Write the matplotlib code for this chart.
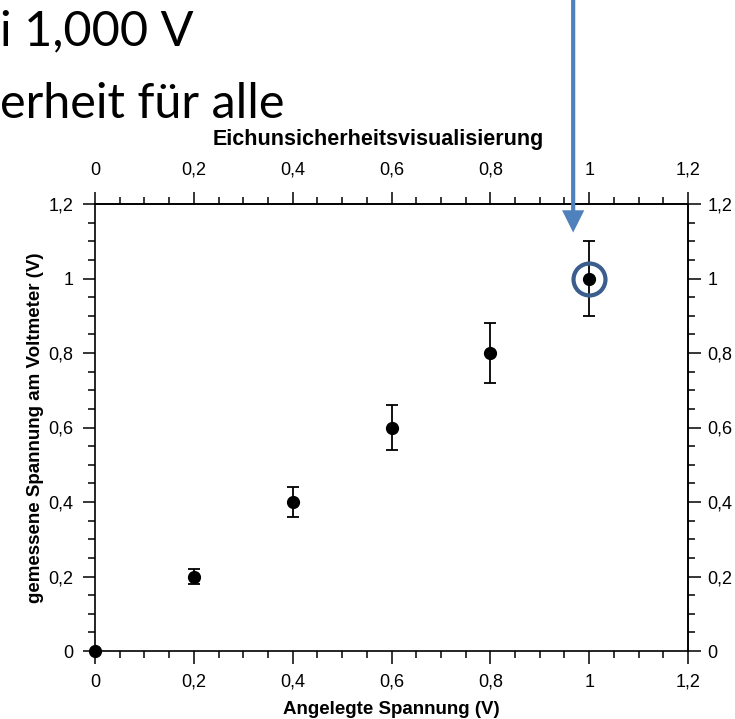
import matplotlib
matplotlib.use('Agg')
import matplotlib.pyplot as plt
from matplotlib import transforms
from matplotlib.ticker import MultipleLocator

# Daten
angelegt = [0, 0.2, 0.4, 0.6, 0.8, 1.0]
gemessen = [0, 0.2, 0.4, 0.6, 0.8, 1.0]
fehler = [0, 0.02, 0.04, 0.06, 0.08, 0.1]
ticks = [0, 0.2, 0.4, 0.6, 0.8, 1.0, 1.2]
tick_labels = ['0', '0,2', '0,4', '0,6', '0,8', '1', '1,2']
markiert_x, markiert_y = 1.0, 1.0

slide_zeilen = ['i 1,000 V', 'erheit für alle']

plt.rcParams['font.family'] = ['Liberation Sans', 'DejaVu Sans']

fig = plt.figure(figsize=(7.35, 7.19), dpi=100)

# Folientext (am linken Rand abgeschnitten)
fig.text(0.0, 1 - 45 / 719, slide_zeilen[0], fontsize=35, family=['Lato', 'DejaVu Sans'],
         va='baseline', ha='left')
fig.text(0.0, 1 - 118 / 719, slide_zeilen[1], fontsize=35, family=['Lato', 'DejaVu Sans'],
         va='baseline', ha='left')

ax = fig.add_axes([95 / 735, 68 / 719, 593 / 735, 447 / 719])

ax.errorbar(angelegt, gemessen, yerr=fehler, fmt='o', color='black', ms=8.5,
            capsize=4.5, elinewidth=1.3, capthick=1.3, clip_on=False, zorder=3)

# Markierung
ax.plot(markiert_x, markiert_y, 'o', ms=23, mfc='none', mec='#3c5e8e', mew=3, zorder=4)

ax.set_xlim(0, 1.2)
ax.set_ylim(0, 1.2)
ax.set_xticks(ticks, tick_labels)
ax.set_yticks(ticks, tick_labels)

# Achsen oben und rechts
oben = ax.secondary_xaxis('top')
oben.set_xticks(ticks, tick_labels)
rechts = ax.secondary_yaxis('right')
rechts.set_yticks(ticks, tick_labels)

for a in (ax, oben, rechts):
    a.xaxis.set_minor_locator(MultipleLocator(0.05))
    a.yaxis.set_minor_locator(MultipleLocator(0.05))
    a.tick_params(which='both', direction='out', labelsize=13, width=1.1)
    a.tick_params(which='major', length=9)
    a.tick_params(which='minor', length=5)
    for s in a.spines.values():
        s.set_linewidth(1.2)

ax.tick_params(axis='x', pad=7.5)
ax.tick_params(axis='y', pad=6.5)
oben.tick_params(axis='x', pad=9)
rechts.tick_params(axis='y', pad=5)

ax.set_xlabel('Angelegte Spannung (V)', fontweight='bold', fontsize=13.5, labelpad=7)
ax.set_ylabel('gemessene Spannung am Voltmeter (V)', fontweight='bold', fontsize=13.5, labelpad=3)
fig.text(378 / 735, 1 - 139 / 719, 'Eichunsicherheitsvisualisierung', fontweight='bold',
         fontsize=15.5, ha='center', va='center')

# Pfeil auf den markierten Punkt
spitze = transforms.offset_copy(ax.transData, fig=fig, x=-16, y=46, units='dots')
start = transforms.blended_transform_factory(spitze, fig.transFigure)
ax.annotate('', xy=(markiert_x, markiert_y), xycoords=spitze,
            xytext=(markiert_x, 1.0), textcoords=start,
            arrowprops=dict(arrowstyle='simple,head_length=1.6,head_width=1.6,tail_width=0.3',
                            mutation_scale=10, color='#4f81bd', lw=0,
                            shrinkA=0, shrinkB=0))

fig.savefig('out.png', dpi=100)
